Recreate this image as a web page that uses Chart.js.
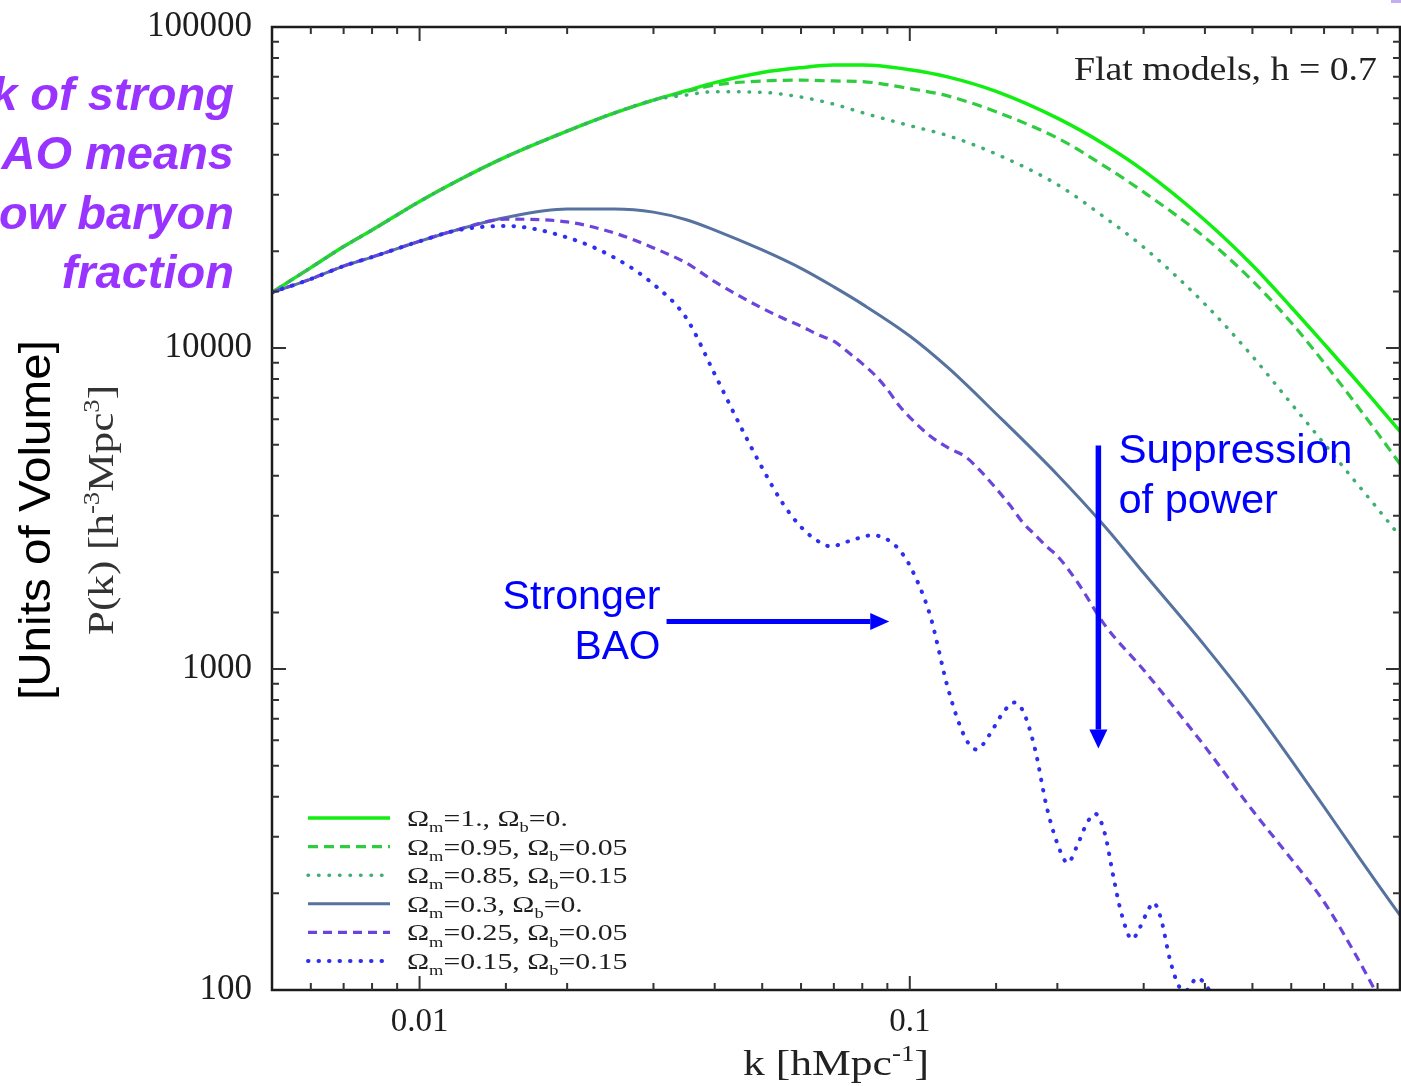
<!DOCTYPE html>
<html>
<head>
<meta charset="utf-8">
<script src="https://cdn.jsdelivr.net/npm/chart.js@4.4.1/dist/chart.umd.min.js"></script>
<style>
html,body{margin:0;padding:0;background:#fff;}
#wrap{width:1401px;height:1086px;position:relative;}
</style>
</head>
<body>
<div id="wrap"><canvas id="c"></canvas></div>
<script>
// ---------------- DATA ----------------
// wavenumber grid shared by the smooth curves  [h/Mpc]
const kSmooth = [0.005, 0.006, 0.007, 0.008, 0.01, 0.012, 0.015, 0.02, 0.025, 0.03,
                 0.035, 0.04, 0.05, 0.06, 0.07, 0.08, 0.1, 0.12, 0.15, 0.2,
                 0.25, 0.3, 0.4, 0.5, 0.6, 0.7, 0.8, 0.9, 1.0];
// P(k) [h^-3 Mpc^3]
const pOm100 = [14900, 17800, 20700, 23300, 28600, 33300, 39400, 47400, 54000, 59200,
                63300, 67100, 72200, 74700, 76100, 76100, 73600, 69800, 63000, 52000,
                43000, 35700, 25000, 18100, 13400, 10300, 8180, 6640, 5500];
const pOm095 = [14900, 17800, 20700, 23300, 28600, 33300, 39400, 47400, 54000, 59200,
                62900, 65900, 67900, 68300, 67900, 67600, 64300, 60900, 54400, 45100,
                36800, 30600, 22100, 16200, 12000, 9000, 6910, 5430, 4350];
const pOm085 = [14900, 17800, 20700, 23300, 28600, 33300, 39400, 47400, 54000, 59200,
                61400, 62900, 62600, 60500, 57500, 54100, 49300, 45800, 40200, 32300,
                25500, 20600, 13700, 9420, 6710, 5040, 3930, 3160, 2590];
const pOm030 = [14900, 16400, 18000, 19200, 21500, 23400, 25500, 27100, 27100, 26500,
                25100, 23300, 20200, 17700, 15500, 13700, 10900, 8650, 6240, 4030,
                2780, 1990, 1180, 765, 520, 372, 277, 214, 171];

const kOm025 = [0.005, 0.006, 0.007, 0.008, 0.01, 0.012, 0.015, 0.02, 0.025, 0.03,
                0.035, 0.04, 0.045, 0.05, 0.055, 0.06, 0.065, 0.07, 0.075, 0.08,
                0.085, 0.09, 0.095, 0.1, 0.11, 0.12, 0.13, 0.14, 0.15, 0.16,
                0.17, 0.18, 0.19, 0.2, 0.22, 0.25, 0.3, 0.35, 0.4, 0.5,
                0.6, 0.7, 0.8, 0.9];
const pOm025 = [14900, 16400, 18000, 19200, 21500, 23400, 25200, 24700, 22800, 20500,
                18400, 16100, 14500, 13300, 12400, 11700, 11000, 10500, 9680, 8940,
                8220, 7430, 6630, 6080, 5320, 4880, 4580, 4110, 3650, 3240,
                2860, 2620, 2410, 2250, 1860, 1370, 993, 743, 573, 363,
                256, 188, 134, 96.5];

const kOm015 = [0.005, 0.006, 0.007, 0.008, 0.01, 0.012, 0.015, 0.02, 0.025, 0.03,
                0.035, 0.04, 0.045, 0.05, 0.055, 0.06, 0.065, 0.069, 0.075, 0.084,
                0.09, 0.095, 0.1, 0.11, 0.12, 0.13, 0.137, 0.145, 0.155, 0.163,
                0.17, 0.18, 0.19, 0.2, 0.21, 0.22, 0.23, 0.239, 0.25, 0.26,
                0.27, 0.284, 0.295, 0.305, 0.314, 0.325, 0.34, 0.355, 0.365, 0.386,
                0.4, 0.42];
const pOm015 = [14900, 16400, 18000, 19200, 21500, 23300, 24000, 22100, 19100, 15800,
                12400, 8290, 5760, 4230, 3290, 2770, 2500, 2410, 2500, 2610,
                2530, 2360, 2100, 1470, 856, 607, 561, 620, 731, 786,
                742, 565, 375, 286, 249, 284, 332, 354, 307, 227,
                174, 144, 157, 175, 187, 168, 123, 102, 99.4, 109,
                104.5, 92.5];

// legend parameters
const omegaM = ['1.', '0.95', '0.85', '0.3', '0.25', '0.15'];
const omegaB = ['0.', '0.05', '0.15', '0.', '0.05', '0.15'];

// axis tick labels
const xTickLabels = [0.01, 0.1];
const yTickLabels = [100, 1000, 10000, 100000];

// annotation arrows (data coordinates: k, P)
const arrowBAO  = { from: [0.0319, 1405], to: [0.0908, 1405] };
const arrowSupp = { from: [0.2425, 4970], to: [0.2425, 565] };

// ---------------- STYLE ----------------
const SERIF = '"Liberation Serif", "DejaVu Serif", serif';
const SANS  = '"Liberation Sans", Arial, sans-serif';

const series = [
  { k: kSmooth, p: pOm100, color: '#12ee12', width: 3.5, dash: [], cap: 'butt' },
  { k: kSmooth, p: pOm095, color: '#30cc40', width: 3.2, dash: [10, 6], cap: 'butt' },
  { k: kSmooth, p: pOm085, color: '#3fae72', width: 3.5, dash: [0.5, 10], cap: 'round' },
  { k: kSmooth, p: pOm030, color: '#56729e', width: 3, dash: [], cap: 'butt' },
  { k: kOm025,  p: pOm025, color: '#6b44dc', width: 3.2, dash: [9, 6], cap: 'butt' },
  { k: kOm015,  p: pOm015, color: '#2f2ff0', width: 4, dash: [0.5, 10], cap: 'round' }
];

const datasets = series.map((s, i) => ({
  label: 'Ωm=' + omegaM[i] + ', Ωb=' + omegaB[i],
  data: s.k.map((k, j) => ({ x: k, y: s.p[j] })),
  borderColor: s.color,
  borderWidth: s.width,
  borderDash: s.dash,
  borderCapStyle: s.cap,
  pointRadius: 0,
  fill: false,
  cubicInterpolationMode: 'monotone',
  order: series.length - i
}));

// ---------------- helpers ----------------
function drawRich(ctx, parts, o) {
  const small = 0.62;
  const fontOf = (p) => `${o.style || ''} ${p[1] ? o.size * small : o.size}px ${o.family}`;
  const widths = parts.map(p => { ctx.font = fontOf(p); return ctx.measureText(p[0]).width; });
  const W = widths.reduce((a, b) => a + b, 0);
  const sx = o.width ? o.width / W : (o.sx || 1);
  ctx.save();
  ctx.translate(o.x, o.y);
  if (o.rotate) ctx.rotate(o.rotate);
  ctx.scale(sx, 1);
  ctx.fillStyle = o.color;
  ctx.textAlign = 'left';
  ctx.textBaseline = 'alphabetic';
  let cx = o.align === 'right' ? -W : (o.align === 'center' ? -W / 2 : 0);
  parts.forEach((p, i) => {
    ctx.font = fontOf(p);
    const dy = p[1] === 'sup' ? -0.40 * o.size : (p[1] === 'sub' ? 0.26 * o.size : 0);
    ctx.fillText(p[0], cx, dy);
    cx += widths[i];
  });
  ctx.restore();
}

function drawArrow(ctx, x1, y1, x2, y2, color, lw, headLen, headHalf) {
  const ang = Math.atan2(y2 - y1, x2 - x1);
  ctx.save();
  ctx.strokeStyle = color; ctx.fillStyle = color; ctx.lineWidth = lw; ctx.setLineDash([]);
  ctx.beginPath();
  ctx.moveTo(x1, y1);
  ctx.lineTo(x2 - headLen * Math.cos(ang), y2 - headLen * Math.sin(ang));
  ctx.stroke();
  ctx.translate(x2, y2); ctx.rotate(ang);
  ctx.beginPath();
  ctx.moveTo(0, 0); ctx.lineTo(-headLen, -headHalf); ctx.lineTo(-headLen, headHalf);
  ctx.closePath(); ctx.fill();
  ctx.restore();
}

const isDecade = v => Math.abs(Math.log10(v) - Math.round(Math.log10(v))) < 1e-6;

const framePlugin = {
  id: 'frame',
  afterDraw(chart) {
    const ctx = chart.ctx;
    const a = chart.chartArea;
    const xs = chart.scales.x, ys = chart.scales.y;
    ctx.save();
    // frame
    ctx.strokeStyle = '#1c1c1c'; ctx.lineWidth = 2.5; ctx.setLineDash([]);
    ctx.strokeRect(a.left, a.top, a.right - a.left, a.bottom - a.top);
    // inward ticks on all sides
    ctx.strokeStyle = '#333'; ctx.lineWidth = 2;
    xs.ticks.forEach(t => {
      const px = xs.getPixelForValue(t.value);
      if (px < a.left + 1 || px > a.right - 1) return;
      const L = isDecade(t.value) ? 14 : 7;
      ctx.beginPath();
      ctx.moveTo(px, a.bottom); ctx.lineTo(px, a.bottom - L);
      ctx.moveTo(px, a.top); ctx.lineTo(px, a.top + L);
      ctx.stroke();
    });
    ys.ticks.forEach(t => {
      const py = ys.getPixelForValue(t.value);
      if (py < a.top + 1 || py > a.bottom - 1) return;
      const L = isDecade(t.value) ? 14 : 7;
      ctx.beginPath();
      ctx.moveTo(a.left, py); ctx.lineTo(a.left + L, py);
      ctx.moveTo(a.right, py); ctx.lineTo(a.right - L, py);
      ctx.stroke();
    });

    // legend (bottom-left, inside the plot)
    const y0 = a.bottom - 172, step = 28.6;
    chart.data.datasets.forEach((ds, i) => {
      const y = y0 + i * step;
      ctx.save();
      ctx.strokeStyle = ds.borderColor; ctx.lineWidth = ds.borderWidth;
      ctx.lineCap = ds.borderCapStyle; ctx.setLineDash(ds.borderDash);
      ctx.beginPath(); ctx.moveTo(a.left + 36, y); ctx.lineTo(a.left + 118, y); ctx.stroke();
      ctx.restore();
      const parts = [['Ω'], ['m', 'sub'], ['=' + omegaM[i] + ', Ω'], ['b', 'sub'], ['=' + omegaB[i]]];
      drawRich(ctx, parts, { x: a.left + 135, y: y + 8, size: 24, family: SERIF, color: '#1e1e1e',
                             align: 'left', sx: 1.24 });
    });

    // "Flat models" note
    drawRich(ctx, [['Flat models, h = 0.7']], { x: a.right - 23, y: a.top + 53, size: 34,
             family: SERIF, color: '#222', align: 'right', width: 303 });

    // arrows + annotations
    const bx1 = xs.getPixelForValue(arrowBAO.from[0]), by1 = ys.getPixelForValue(arrowBAO.from[1]);
    const bx2 = xs.getPixelForValue(arrowBAO.to[0]),   by2 = ys.getPixelForValue(arrowBAO.to[1]);
    drawArrow(ctx, bx1, by1, bx2, by2, '#0000ff', 5, 19, 8.5);
    drawRich(ctx, [['Stronger']], { x: bx1 - 6, y: by1 - 13, size: 40, family: SANS, color: '#0000ff', align: 'right', width: 158 });
    drawRich(ctx, [['BAO']], { x: bx1 - 6, y: by1 + 37, size: 40, family: SANS, color: '#0000ff', align: 'right', width: 86 });

    const sx1 = xs.getPixelForValue(arrowSupp.from[0]), sy1 = ys.getPixelForValue(arrowSupp.from[1]);
    const sx2 = xs.getPixelForValue(arrowSupp.to[0]),   sy2 = ys.getPixelForValue(arrowSupp.to[1]);
    drawArrow(ctx, sx1, sy1, sx2, sy2, '#0000ff', 5.5, 19, 9);
    drawRich(ctx, [['Suppression']], { x: sx1 + 20, y: sy1 + 18, size: 40, family: SANS, color: '#0000ff', align: 'left', width: 234 });
    drawRich(ctx, [['of power']], { x: sx1 + 20, y: sy1 + 68, size: 40, family: SANS, color: '#0000ff', align: 'left', sx: 1.04 });

    // axis titles
    drawRich(ctx, [['k [hMpc'], ['-1', 'sup'], [']']], { x: 836, y: 1075, size: 36, family: SERIF,
             color: '#222', align: 'center', width: 186 });
    drawRich(ctx, [['P(k) [h'], ['-3', 'sup'], ['Mpc'], ['3', 'sup'], [']']], { x: 113, y: 510, size: 36,
             family: SERIF, color: '#333', align: 'center', width: 250, rotate: -Math.PI / 2 });
    drawRich(ctx, [['[Units of Volume]']], { x: 50, y: 520, size: 44, family: SANS, color: '#000',
             align: 'center', width: 360, rotate: -Math.PI / 2 });

    // purple side note (cut by the left edge of the picture)
    const note = ['Lack of strong', 'BAO means', 'low baryon', 'fraction'];
    note.forEach((t, i) => drawRich(ctx, [[t]], { x: 234, y: 110 + i * 59.3, size: 47, family: SANS,
      style: 'italic bold', color: '#9933ff', align: 'right' }));

    ctx.fillStyle = '#c4aef2';
    ctx.fillRect(1391, 0, 10, 3);
    ctx.restore();
  }
};

new Chart(document.getElementById('c'), {
  type: 'line',
  data: { datasets },
  options: {
    responsive: true,
    maintainAspectRatio: false,
    animation: false,
    layout: { padding: { left: 0, top: 27, right: 1, bottom: 0 } },
    plugins: { legend: { display: false }, tooltip: { enabled: false } },
    elements: { line: { tension: 0 } },
    scales: {
      x: {
        type: 'logarithmic', min: 0.005, max: 1,
        grid: { display: false, drawTicks: false },
        border: { display: false },
        ticks: {
          autoSkip: false, maxRotation: 0, minRotation: 0, padding: 13,
          color: '#1e1e1e', font: { family: SERIF, size: 33 },
          callback: v => xTickLabels.some(t => Math.abs(t - v) < 1e-9) ? String(v) : ''
        },
        afterFit: s => { s.height = 96; s.paddingLeft = 0; s.paddingRight = 0; }
      },
      y: {
        type: 'logarithmic', min: 100, max: 100000,
        grid: { display: false, drawTicks: false },
        border: { display: false },
        ticks: {
          autoSkip: false, padding: 20,
          color: '#1e1e1e', font: { family: SERIF, size: 35 },
          callback: v => yTickLabels.some(t => Math.abs(t - v) < 1e-6) ? String(v) : ''
        },
        afterFit: s => { s.width = 272; s.paddingTop = 0; s.paddingBottom = 0; }
      }
    }
  },
  plugins: [framePlugin]
});
</script>
</body>
</html>
